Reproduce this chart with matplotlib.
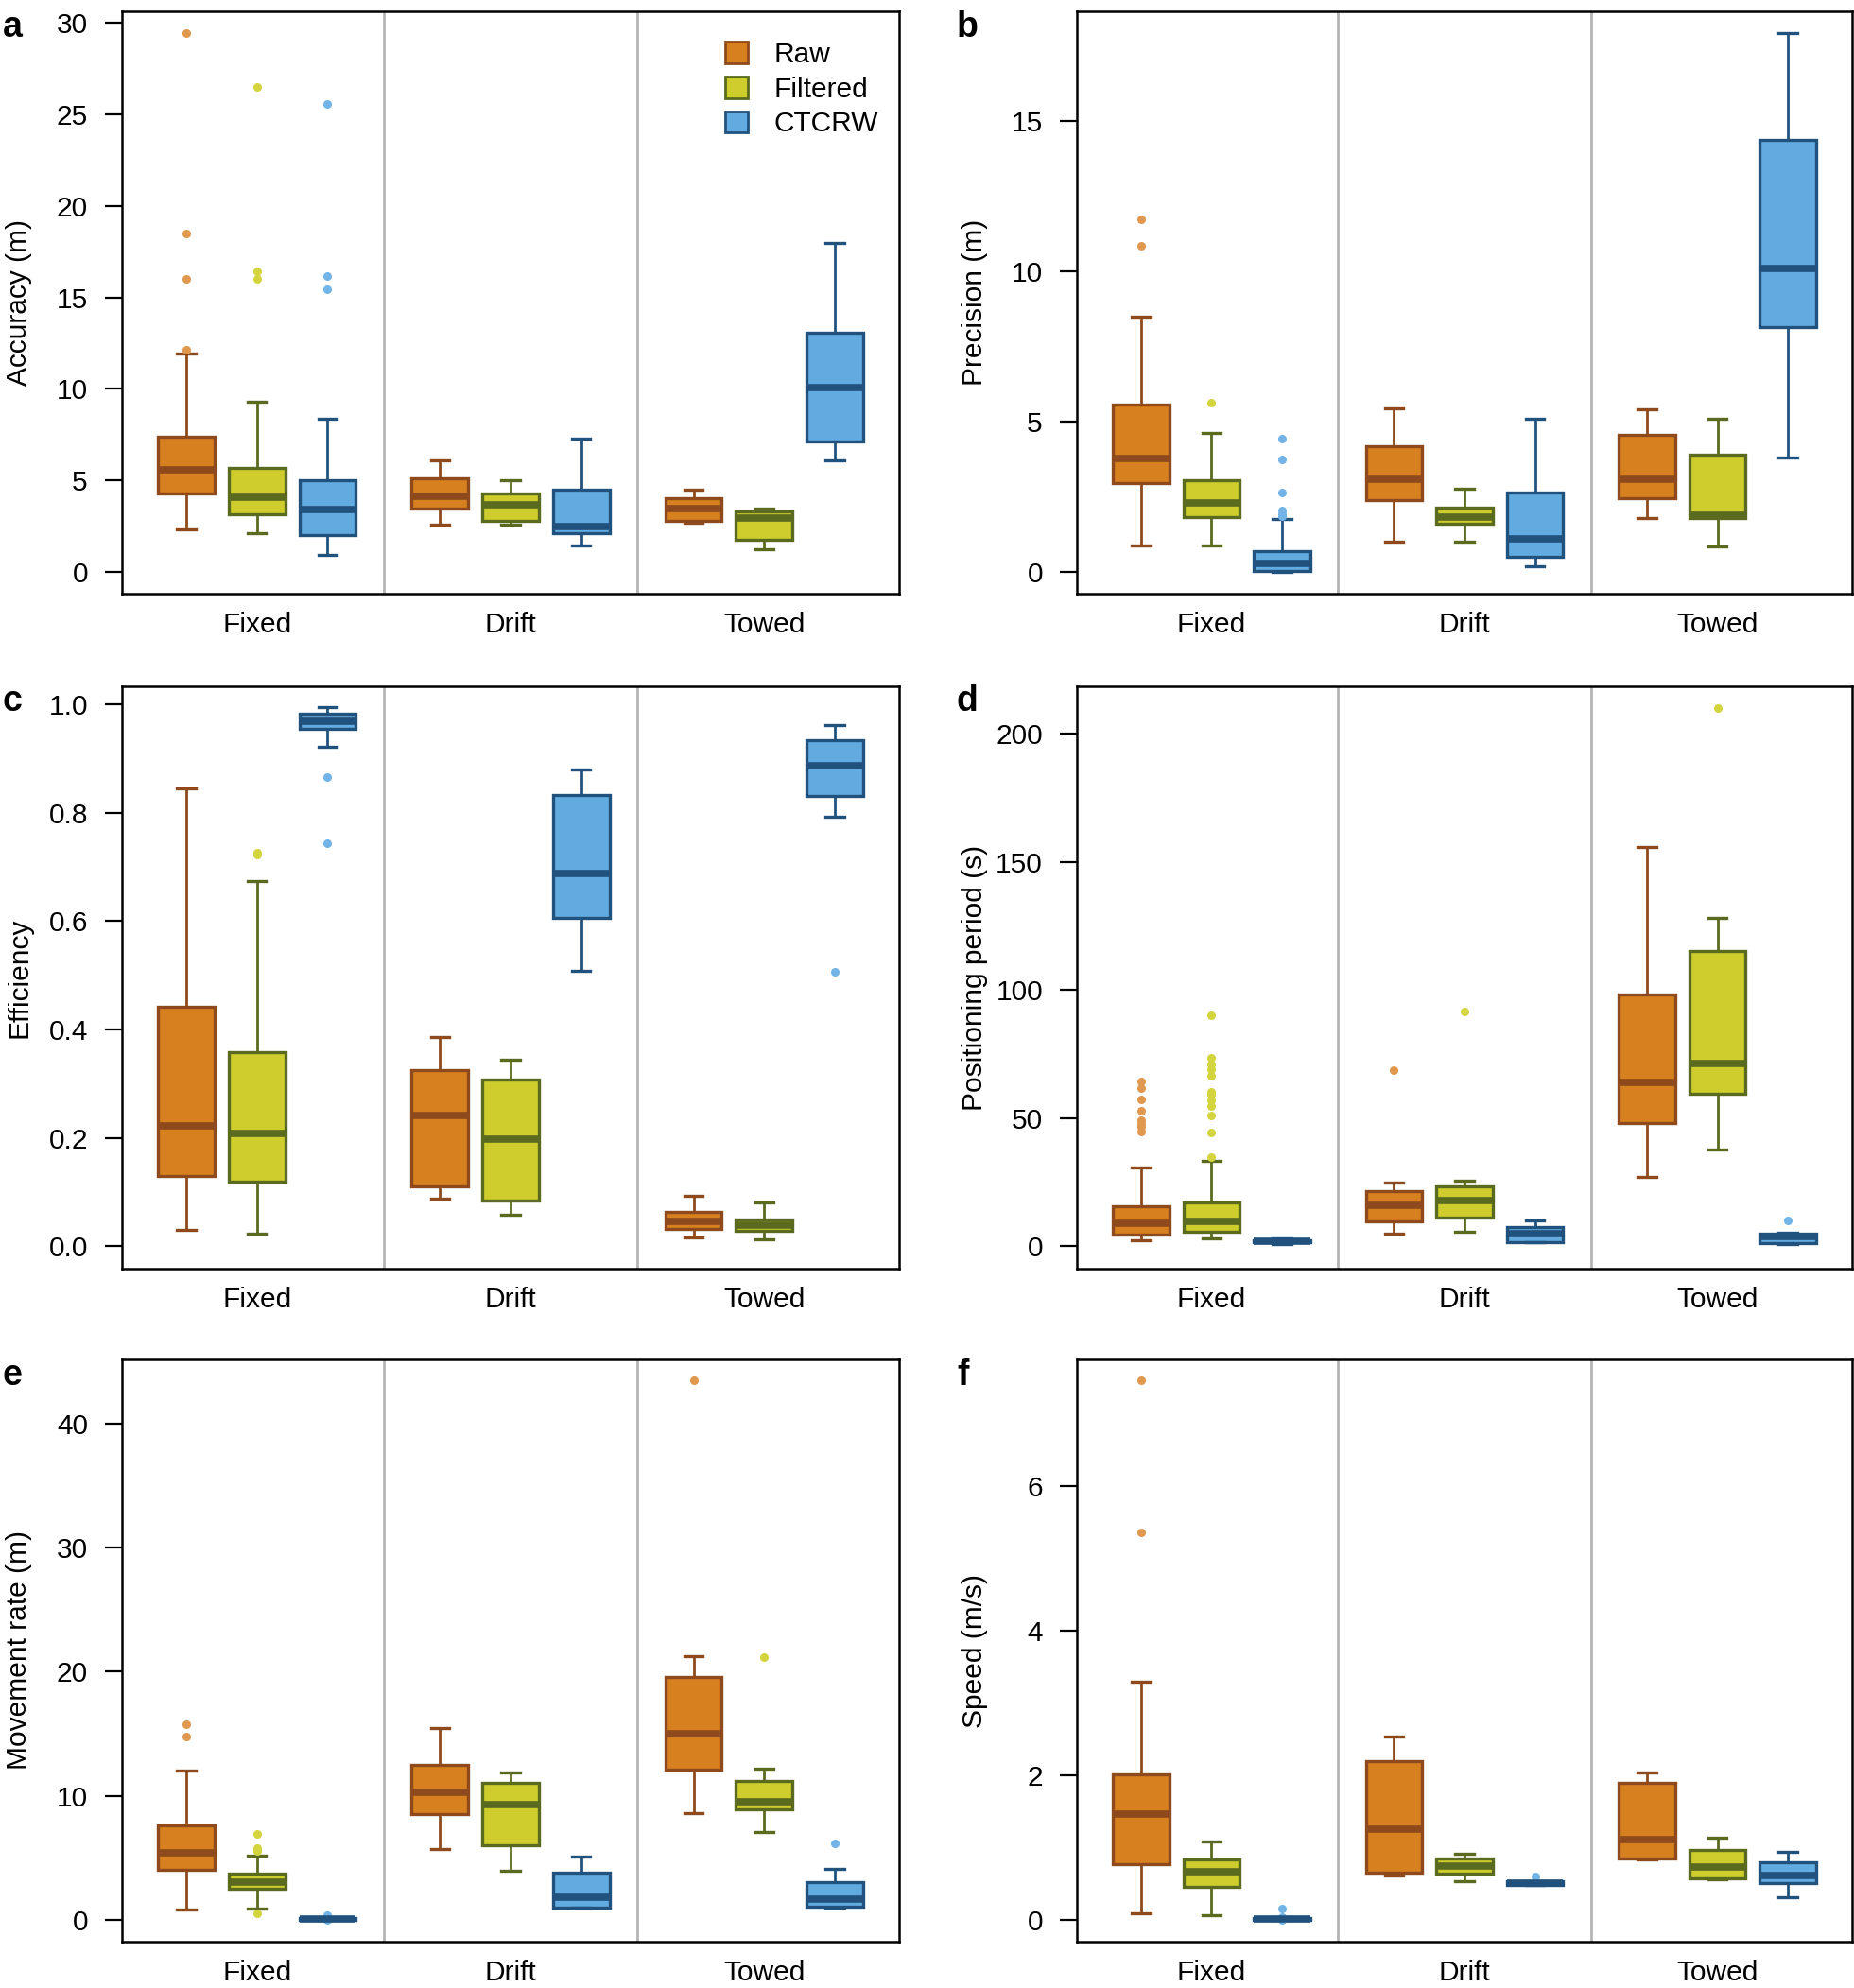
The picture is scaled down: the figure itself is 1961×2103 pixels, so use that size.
import matplotlib
matplotlib.use("Agg")
import matplotlib.pyplot as plt
from matplotlib.patches import Patch
from matplotlib.ticker import FormatStrFormatter

plt.rcParams['font.family'] = ['Liberation Sans', 'DejaVu Sans']

groups = ["Fixed", "Drift", "Towed"]
methods = ["Raw", "Filtered", "CTCRW"]

# stats per group: [whislo, q1, median, q3, whishi]
accuracy_raw = [[2.3, 4.26, 5.57, 7.36, 11.94], [2.55, 3.43, 4.12, 5.1, 6.1], [2.69, 2.78, 3.43, 4.0, 4.46]]
accuracy_raw_out = [[29.45, 18.47, 16.0, 12.12], [], []]
accuracy_filt = [[2.12, 3.13, 4.05, 5.66, 9.29], [2.55, 2.76, 3.68, 4.26, 5.0], [1.22, 1.75, 2.92, 3.31, 3.45]]
accuracy_filt_out = [[26.48, 16.43, 15.99], [], []]
accuracy_ctcrw = [[0.92, 2.02, 3.38, 4.99, 8.37], [1.45, 2.12, 2.48, 4.46, 7.29], [6.1, 7.13, 10.08, 13.09, 17.97]]
accuracy_ctcrw_out = [[25.6, 16.15, 15.46], [], []]

precision_raw = [[0.88, 2.94, 3.78, 5.57, 8.49], [1.0, 2.38, 3.06, 4.18, 5.44], [1.8, 2.45, 3.08, 4.55, 5.4]]
precision_raw_out = [[11.71, 10.84], [], []]
precision_filt = [[0.88, 1.82, 2.28, 3.04, 4.63], [1.0, 1.6, 1.83, 2.13, 2.77], [0.84, 1.78, 1.87, 3.88, 5.09]]
precision_filt_out = [[5.61], [], []]
precision_ctcrw = [[0.0, 0.02, 0.27, 0.70, 1.75], [0.17, 0.49, 1.1, 2.64, 5.09], [3.81, 8.13, 10.1, 14.37, 17.92]]
precision_ctcrw_out = [[4.42, 3.75, 2.62, 2.03, 1.92, 1.86], [], []]

efficiency_raw = [[0.031, 0.130, 0.223, 0.442, 0.845], [0.088, 0.110, 0.241, 0.325, 0.386], [0.016, 0.033, 0.047, 0.063, 0.094]]
efficiency_raw_out = [[], [], []]
efficiency_filt = [[0.023, 0.120, 0.209, 0.358, 0.673], [0.059, 0.085, 0.198, 0.307, 0.345], [0.013, 0.028, 0.039, 0.050, 0.081]]
efficiency_filt_out = [[0.727, 0.722], [], []]
efficiency_ctcrw = [[0.922, 0.955, 0.968, 0.982, 0.995], [0.509, 0.605, 0.687, 0.832, 0.880], [0.793, 0.831, 0.887, 0.934, 0.962]]
efficiency_ctcrw_out = [[0.866, 0.743], [], [0.506]]

period_raw = [[2.5, 4.4, 9.0, 15.8, 30.9], [4.9, 9.9, 15.9, 21.5, 25.0], [27.1, 48.3, 63.9, 98.2, 155.8]]
period_raw_out = [[64.4, 61.6, 57.3, 53.0, 49.1, 47.9, 46.6, 44.7], [68.8], []]
period_filt = [[3.0, 5.6, 9.7, 17.1, 33.2], [5.6, 11.3, 17.9, 23.3, 25.6], [37.9, 59.4, 71.4, 115.1, 128.2]]
period_filt_out = [[90.1, 73.6, 71.1, 69.0, 66.5, 60.3, 59.3, 57.0, 54.7, 50.9, 44.5, 34.8], [91.8], [210.2]]
period_ctcrw = [[1.0, 1.5, 2.0, 2.5, 3.0], [1.6, 1.8, 4.9, 7.7, 10.0], [1.0, 1.1, 3.8, 5.1, 5.5]]
period_ctcrw_out = [[], [], [10.0]]

movement_raw = [[0.82, 4.03, 5.39, 7.61, 12.01], [5.67, 8.53, 10.27, 12.49, 15.46], [8.6, 12.08, 15.02, 19.59, 21.23]]
movement_raw_out = [[15.73, 14.78], [], [43.5]]
movement_filt = [[0.89, 2.49, 3.04, 3.69, 5.15], [3.92, 6.01, 9.32, 11.06, 11.88], [7.06, 8.94, 9.49, 11.16, 12.15]]
movement_filt_out = [[6.89, 5.77, 5.56, 0.55], [], [21.19]]
movement_ctcrw = [[0.0, 0.02, 0.05, 0.1, 0.15], [0.96, 0.99, 1.84, 3.79, 5.09], [0.96, 1.06, 1.67, 3.04, 4.13]]
movement_ctcrw_out = [[0.35, 0.0], [], [6.14]]

speed_raw = [[0.09, 0.77, 1.46, 2.01, 3.29], [0.62, 0.65, 1.25, 2.20, 2.53], [0.84, 0.85, 1.11, 1.89, 2.04]]
speed_raw_out = [[7.46, 5.36], [], []]
speed_filt = [[0.07, 0.46, 0.67, 0.84, 1.08], [0.53, 0.64, 0.74, 0.85, 0.92], [0.56, 0.57, 0.73, 0.97, 1.14]]
speed_filt_out = [[], [], []]
speed_ctcrw = [[0.0, 0.0, 0.01, 0.03, 0.04], [0.49, 0.49, 0.51, 0.53, 0.54], [0.31, 0.51, 0.62, 0.80, 0.94]]
speed_ctcrw_out = [[0.16, 0.035, 0.0], [0.60], []]

panels = [
    ("a", "Accuracy (m)", [accuracy_raw, accuracy_filt, accuracy_ctcrw],
     [accuracy_raw_out, accuracy_filt_out, accuracy_ctcrw_out], (-1.2, 30.64), [0, 5, 10, 15, 20, 25, 30], "%d"),
    ("b", "Precision (m)", [precision_raw, precision_filt, precision_ctcrw],
     [precision_raw_out, precision_filt_out, precision_ctcrw_out], (-0.73, 18.64), [0, 5, 10, 15], "%d"),
    ("c", "Efficiency", [efficiency_raw, efficiency_filt, efficiency_ctcrw],
     [efficiency_raw_out, efficiency_filt_out, efficiency_ctcrw_out], (-0.041, 1.033), [0, 0.2, 0.4, 0.6, 0.8, 1.0], "%.1f"),
    ("d", "Positioning period (s)", [period_raw, period_filt, period_ctcrw],
     [period_raw_out, period_filt_out, period_ctcrw_out], (-8.7, 218.6), [0, 50, 100, 150, 200], "%d"),
    ("e", "Movement rate (m)", [movement_raw, movement_filt, movement_ctcrw],
     [movement_raw_out, movement_filt_out, movement_ctcrw_out], (-1.77, 45.2), [0, 10, 20, 30, 40], "%d"),
    ("f", "Speed (m/s)", [speed_raw, speed_filt, speed_ctcrw],
     [speed_raw_out, speed_filt_out, speed_ctcrw_out], (-0.30, 7.75), [0, 2, 4, 6], "%d"),
]

fills = ["#D7801F", "#CFCD2D", "#62ABE0"]
edges = ["#8E4A1C", "#5A6A1E", "#21527E"]
flier_cols = ["#E0974E", "#D4D43E", "#72B4E8"]

W, H = 1961, 2103
fig = plt.figure(figsize=(W / 100, H / 100), dpi=100)

col_left = [129, 1139]
col_width = [822, 820]
row_top = [12, 726, 1438]
row_h = 616

group_gap = 3.59
FS = 21.5

for i, (letter, ylabel, series, outs, ylim, yticks, fmt) in enumerate(panels):
    r, c = divmod(i, 2)
    left = col_left[c] / W
    bottom = 1 - (row_top[r] + row_h) / H
    ax = fig.add_axes([left, bottom, col_width[c] / W, row_h / H])
    for m in range(3):
        stats = []
        pos = []
        for g in range(3):
            lo, q1, med, q3, hi = series[m][g]
            stats.append(dict(whislo=lo, q1=q1, med=med, q3=q3, whishi=hi, fliers=outs[m][g]))
            pos.append(g * group_gap + (m - 1))
        ax.bxp(stats, positions=pos, widths=0.8, capwidths=0.26, patch_artist=True,
               boxprops=dict(facecolor=fills[m], edgecolor=edges[m], linewidth=2.4),
               medianprops=dict(color=edges[m], linewidth=5.5, solid_capstyle='butt'),
               whiskerprops=dict(color=edges[m], linewidth=2.0),
               capprops=dict(color=edges[m], linewidth=2.4),
               flierprops=dict(marker='o', markerfacecolor=flier_cols[m], markeredgecolor='none',
                               markersize=6.5),
               manage_ticks=False, zorder=3)
    for sx in (group_gap / 2, group_gap * 1.5):
        ax.axvline(sx, color="#B4B4B4", lw=2.0, zorder=1)
    ax.set_xlim(-1.91, 2 * group_gap + 1.91)
    ax.set_ylim(*ylim)
    ax.set_yticks(yticks)
    ax.yaxis.set_major_formatter(FormatStrFormatter(fmt))
    ax.set_xticks([g * group_gap for g in range(3)])
    ax.set_xticklabels(groups)
    ax.tick_params(axis='y', length=13, width=1.6, pad=13, labelsize=FS)
    ax.tick_params(axis='x', length=0, pad=14, labelsize=FS)
    for sp in ax.spines.values():
        sp.set_linewidth(1.8)
        sp.set_color('black')
    ax.set_ylabel(ylabel, fontsize=FS)
    ax.yaxis.set_label_coords(-0.115, 0.5)
    fx = 3 if c == 0 else 1012
    base = [39, 752, 1465][r]
    fig.text(fx / W, 1 - base / H, letter, fontsize=27, fontweight='bold', va='baseline', ha='left')
    if i == 0:
        handles = [Patch(facecolor=fills[k], edgecolor=edges[k], linewidth=2.0) for k in range(3)]
        ax.legend(handles, methods, loc='upper left', bbox_to_anchor=(0.776, 0.948), frameon=False,
                  fontsize=FS, borderpad=0, borderaxespad=0, handlelength=0.8, handleheight=0.8,
                  handletextpad=0.92, labelspacing=0.29)

fig.savefig("out.png", dpi=100)
